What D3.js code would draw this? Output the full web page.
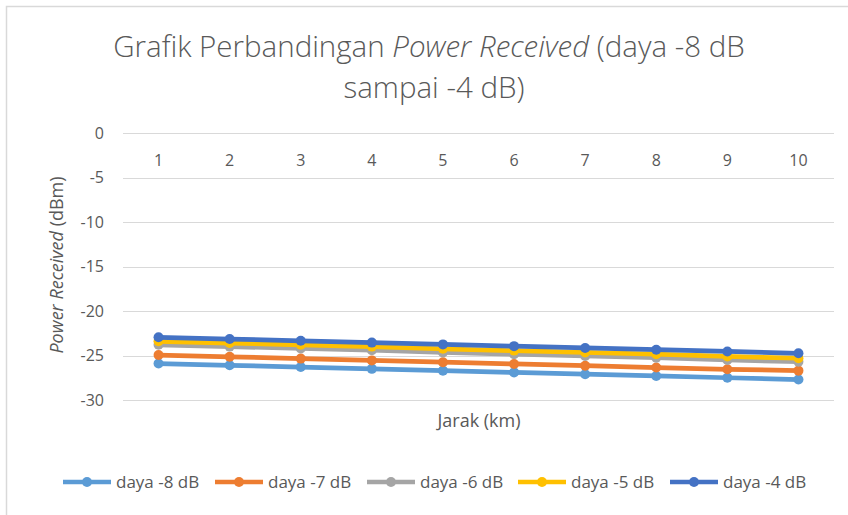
<!DOCTYPE html>
<html>
<head>
<meta charset="utf-8">
<script src="https://cdn.jsdelivr.net/npm/d3@7"></script>
<style>
  body { margin: 0; background: #fff; }
  text { font-family: "Open Sans", sans-serif; fill: #595959; }
</style>
</head>
<body>
<div id="chart"></div>
<script>
// jarak (km)
const categories = [1, 2, 3, 4, 5, 6, 7, 8, 9, 10];
const seriesNames = ["daya -8 dB", "daya -7 dB", "daya -6 dB", "daya -5 dB", "daya -4 dB"];
const daya8 = [-25.9, -26.1, -26.3, -26.5, -26.7, -26.9, -27.1, -27.3, -27.5, -27.7];
const daya7 = [-24.95, -25.15, -25.35, -25.55, -25.75, -25.95, -26.15, -26.35, -26.55, -26.7];
const daya6 = [-23.8, -24.0, -24.2, -24.4, -24.65, -24.85, -25.05, -25.25, -25.5, -25.7];
const daya5 = [-23.4, -23.6, -23.8, -24.0, -24.25, -24.45, -24.65, -24.85, -25.1, -25.3];
const daya4 = [-22.95, -23.15, -23.35, -23.55, -23.75, -23.95, -24.15, -24.35, -24.55, -24.75];
const yTicks = [0, -5, -10, -15, -20, -25, -30];

const colors = ["#5B9BD5", "#ED7D31", "#A5A5A5", "#FFC000", "#4472C4"];
const allSeries = [daya8, daya7, daya6, daya5, daya4];

const width = 848, height = 515;
const svg = d3.select("#chart").append("svg")
    .attr("width", width).attr("height", height);

// frame (cropped at right/bottom)
svg.append("path")
    .attr("d", `M6.5,${height} V6.5 H${width}`)
    .attr("fill", "none").attr("stroke", "#d9d9d9").attr("stroke-width", 1.5);

const x = d3.scalePoint().domain(categories).range([123, 834]).padding(0.5);
const y = d3.scaleLinear().domain([-30, 0]).range([400, 133]);

// gridlines
svg.append("g").selectAll("line").data(yTicks).join("line")
    .attr("x1", 123).attr("x2", 834)
    .attr("y1", d => Math.round(y(d)) + 0.5).attr("y2", d => Math.round(y(d)) + 0.5)
    .attr("stroke", "#d9d9d9").attr("stroke-width", 1);

// y tick labels
svg.append("g").selectAll("text").data(yTicks).join("text")
    .attr("x", 104).attr("y", d => y(d)).attr("dy", "0.35em")
    .attr("text-anchor", "end").style("font-size", "16px")
    .text(d => d === 0 ? "0" : "-" + Math.abs(d));

// x tick labels (axis crosses at 0, labels below it)
svg.append("g").selectAll("text").data(categories).join("text")
    .attr("x", d => x(d)).attr("y", y(0) + 27).attr("dy", "0.35em")
    .attr("text-anchor", "middle").style("font-size", "16px")
    .text(d => d);

// title
const title = svg.append("text").attr("text-anchor", "middle")
    .style("font-size", "29.5px").style("font-weight", 300);
const t1 = title.append("tspan").attr("x", 429).attr("y", 57);
t1.append("tspan").text("Grafik Perbandingan ");
t1.append("tspan").style("font-style", "italic").text("Power Received");
t1.append("tspan").text(" (daya -8 dB");
title.append("tspan").attr("x", 434).attr("y", 98).text("sampai -4 dB)");

// axis titles
const yt = svg.append("text").attr("transform", "translate(63,265) rotate(-90)")
    .attr("text-anchor", "middle").style("font-size", "18px");
yt.append("tspan").style("font-style", "italic").text("Power Received");
yt.append("tspan").text(" (dBm)");

svg.append("text").attr("x", 479).attr("y", 427)
    .attr("text-anchor", "middle").style("font-size", "18px").text("Jarak (km)");

// lines and markers
const line = d3.line().x((d, i) => x(categories[i])).y(d => y(d));
allSeries.forEach((s, k) => {
    const g = svg.append("g");
    g.append("path").datum(s).attr("d", line)
        .attr("fill", "none").attr("stroke", colors[k])
        .attr("stroke-width", 4.75).attr("stroke-linejoin", "round");
    g.selectAll("circle").data(s).join("circle")
        .attr("cx", (d, i) => x(categories[i])).attr("cy", d => y(d))
        .attr("r", 5).attr("fill", colors[k]);
});

// legend
const legendX = [63, 215, 367, 518, 670];
const lg = svg.append("g").selectAll("g").data(seriesNames).join("g")
    .attr("transform", (d, i) => `translate(${legendX[i]},482)`);
lg.append("line").attr("x1", 0).attr("x2", 48)
    .attr("stroke", (d, i) => colors[i]).attr("stroke-width", 4.5);
lg.append("circle").attr("cx", 24).attr("r", 5).attr("fill", (d, i) => colors[i]);
lg.append("text").attr("x", 53).attr("dy", "0.35em")
    .style("font-size", "17px").text(d => d);
</script>
</body>
</html>
